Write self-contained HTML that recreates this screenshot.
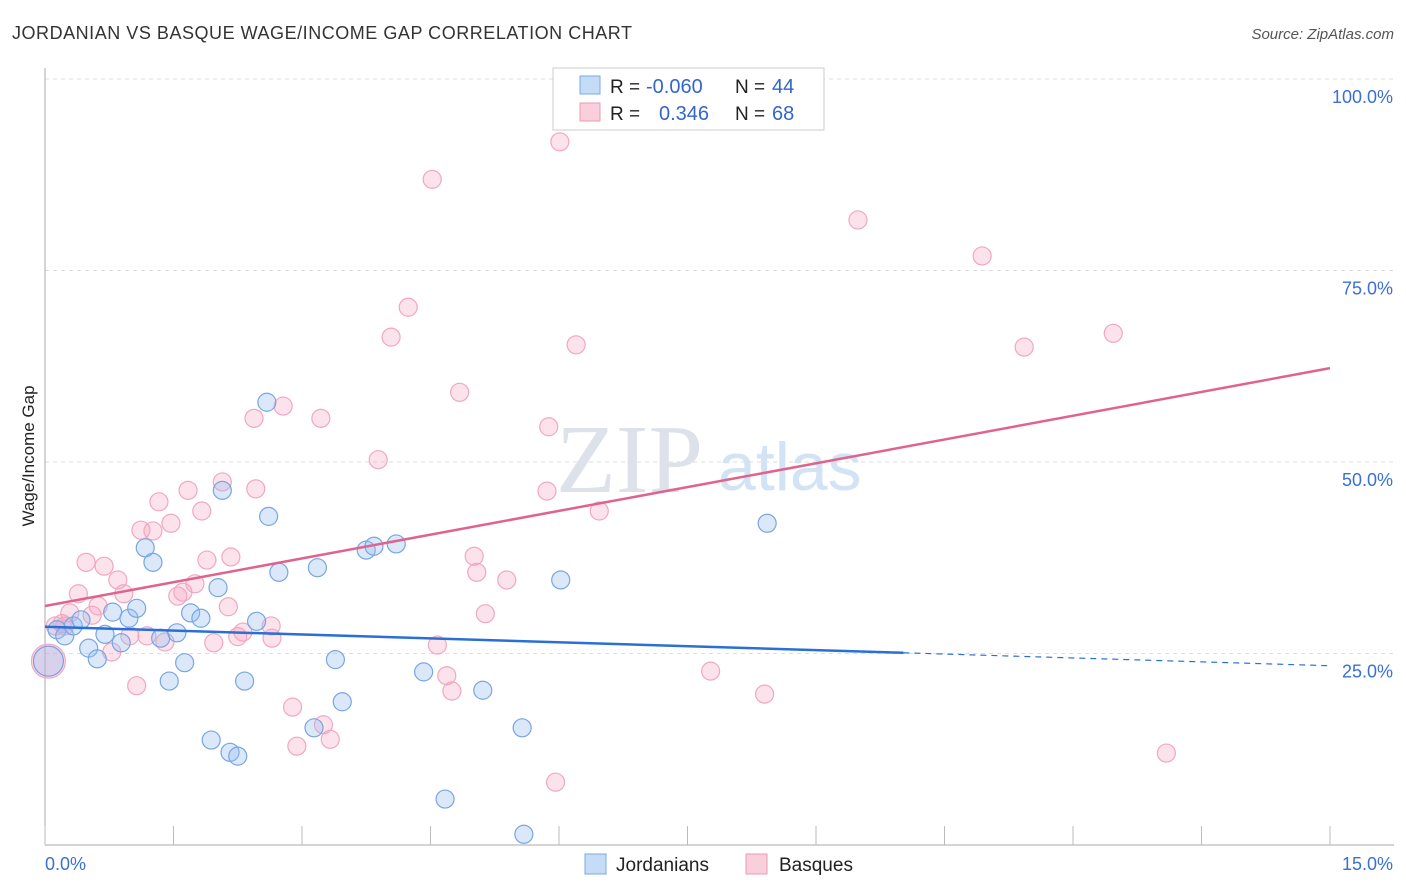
<!DOCTYPE html>
<html><head><meta charset="utf-8"><style>
body{margin:0;background:#fff;font-family:"Liberation Sans",sans-serif;}
svg{display:block}
</style></head><body>
<svg id="c" width="1406" height="892" xmlns="http://www.w3.org/2000/svg">
<text x="12" y="39" font-size="18" fill="#333" textLength="620" lengthAdjust="spacing">JORDANIAN VS BASQUE WAGE/INCOME GAP CORRELATION CHART</text>
<text x="1394" y="39" font-size="15" fill="#555" text-anchor="end" font-style="italic">Source: ZipAtlas.com</text>
<g id="grid"></g>
<text x="556" y="492" font-size="98" fill="#dde2ea" font-family="Liberation Serif">ZIP</text>
<text x="718" y="490" font-size="68" fill="#d3e3f6">atlas</text>
<g id="pts"></g>
<g id="lines"></g>
<text transform="translate(34,456) rotate(-90)" font-size="17" fill="#222" text-anchor="middle">Wage/Income Gap</text>
<g>
<rect x="553" y="68" width="271" height="62" fill="#fff" stroke="#ccc"/>
<rect x="580" y="76" width="20" height="18" fill="#c5dcf7" stroke="#7aa8e6"/>
<rect x="580" y="103" width="20" height="18" fill="#f9cfdc" stroke="#ee9ab5"/>
<text y="93" font-size="19" fill="#222"><tspan x="610">R =</tspan><tspan x="646" fill="#3366cc" font-size="20">-0.060</tspan><tspan x="735">N =</tspan><tspan x="772" fill="#3366cc" font-size="20">44</tspan></text>
<text y="120" font-size="19" fill="#222"><tspan x="610">R =</tspan><tspan x="659" fill="#3366cc" font-size="20">0.346</tspan><tspan x="735">N =</tspan><tspan x="772" fill="#3366cc" font-size="20">68</tspan></text>
</g>
<g>
<rect x="585" y="854" width="21" height="20" fill="#c5dcf7" stroke="#7aa8e6"/>
<text x="616" y="871" font-size="19" fill="#222">Jordanians</text>
<rect x="746" y="854" width="21" height="20" fill="#f9cfdc" stroke="#ee9ab5"/>
<text x="779" y="871" font-size="19" fill="#222">Basques</text>
</g>
</svg>
<script>
const xTicks=[0,1.5,3,4.5,6,7.5,9,10.5,12,13.5,15];
const yTicks=[25,50,75,100];
const yTickLabels=["25.0%","50.0%","75.0%","100.0%"];
const xLabels=["0.0%","15.0%"];
const blueX=[0.14,0.23,0.33,0.42,0.51,0.61,0.70,0.79,0.89,0.98,1.07,1.17,1.26,1.35,1.45,1.54,1.63,1.70,1.82,1.94,2.02,2.07,2.16,2.25,2.33,2.47,2.59,2.61,2.73,3.18,3.14,3.39,3.47,3.75,3.84,4.10,4.42,4.67,5.11,5.57,5.59,6.02,8.43];
const blueY=[28.1,27.3,28.6,29.4,25.7,24.3,27.5,30.4,26.4,29.6,30.9,38.8,36.9,27.0,21.4,27.7,23.8,30.3,29.6,13.7,33.6,46.3,12.1,11.6,21.4,29.2,57.8,42.9,35.6,36.2,15.3,24.2,18.7,38.5,39.0,39.3,22.6,6.0,20.2,15.3,1.4,34.6,42.0];
const pinkX=[0.12,0.20,0.29,0.39,0.48,0.55,0.62,0.69,0.78,0.85,0.92,0.99,1.07,1.12,1.19,1.26,1.33,1.40,1.47,1.55,1.61,1.67,1.75,1.83,1.89,1.97,2.07,2.14,2.17,2.25,2.31,2.44,2.46,2.64,2.65,2.78,2.89,2.94,3.22,3.25,3.33,3.89,4.04,4.24,4.52,4.58,4.69,4.75,4.84,5.01,5.04,5.14,5.39,5.88,5.86,5.96,6.01,6.20,6.47,7.77,8.40,9.49,10.94,11.43,12.47,13.09,0.23];
const pinkY=[28.6,28.9,30.3,32.8,36.9,30.0,31.2,36.4,25.2,34.6,32.8,27.3,20.8,41.1,27.3,41.0,44.8,26.5,42.0,32.5,33.0,46.3,34.1,43.6,37.2,26.4,47.4,31.1,37.6,27.2,27.8,55.7,46.5,28.6,27.0,57.3,18.0,12.9,55.7,15.7,13.8,50.3,66.3,70.2,86.9,26.1,22.1,20.1,59.1,37.7,35.6,30.2,34.6,54.6,46.2,8.2,91.8,65.3,43.6,22.7,19.7,81.6,76.9,65.0,66.8,12.0,28.6];
const bigPoint=[0.04,24.0];
const blueTrend=[28.5,-0.34]; // intercept, slope
const blueSolidEnd=10.02;
const pinkTrend=[31.2,2.07];
const X=v=>45+v/15*1285, Y=v=>845-v/100*766;
const NS="http://www.w3.org/2000/svg";
function mk(p,t,a){const e=document.createElementNS(NS,t);for(const k in a)e.setAttribute(k,a[k]);p.appendChild(e);return e;}
const grid=document.getElementById('grid'),pts=document.getElementById('pts'),lines=document.getElementById('lines');
yTicks.forEach((t,i)=>{
 const l=mk(grid,'line',{x1:45,x2:1394,y1:Y(t),y2:Y(t),stroke:'#ddd','stroke-dasharray':'4,4'});
 
 
 const tx=mk(grid,'text',{x:1393,y:Y(t)+24,'font-size':18,fill:'#3b6fd4','text-anchor':'end'});
 tx.textContent=yTickLabels[i];
 
 
});
mk(grid,'line',{x1:45,x2:1394,y1:845,y2:845,stroke:'#aaa'});
mk(grid,'line',{x1:45,x2:45,y1:68,y2:845,stroke:'#aaa'});
xTicks.forEach(t=>{
 const l=mk(grid,'line',{x1:X(t),x2:X(t),y1:826,y2:845,stroke:'#bbb'});
 
 
});
const xl0=mk(grid,'text',{x:45,y:870,'font-size':18,fill:'#3b6fd4'});xl0.textContent=xLabels[0];


const xl1=mk(grid,'text',{x:1393,y:870,'font-size':18,fill:'#3b6fd4','text-anchor':'end'});xl1.textContent=xLabels[1];


function dot(x,y,r,f,s,name){const c=mk(pts,'circle',{cx:X(x),cy:Y(y),r:r,fill:f,stroke:s,'stroke-width':1.2});
 
 }
pinkX.forEach((x,i)=>dot(x,pinkY[i],9,'rgba(245,160,190,0.3)','#f0a8c0','basque-point'));
blueX.forEach((x,i)=>dot(x,blueY[i],9,'rgba(150,190,240,0.35)','#78a6e2','jordanian-point'));
dot(bigPoint[0],bigPoint[1],17,'rgba(245,170,200,0.35)','#f0a8c0','large-point-basque');
dot(bigPoint[0],bigPoint[1],15,'rgba(150,180,235,0.35)','#7aa0de','large-point-jordanian');
const bl=mk(lines,'line',{x1:X(0),y1:Y(blueTrend[0]),x2:X(blueSolidEnd),y2:Y(blueTrend[0]+blueTrend[1]*blueSolidEnd),stroke:'#2a6fd6','stroke-width':2.5});


const bd=mk(lines,'line',{x1:X(blueSolidEnd),y1:Y(blueTrend[0]+blueTrend[1]*blueSolidEnd),x2:X(15),y2:Y(blueTrend[0]+blueTrend[1]*15),stroke:'#2a6fd6','stroke-width':1.2,'stroke-dasharray':'6,5'});


const pl=mk(lines,'line',{x1:X(0),y1:Y(pinkTrend[0]),x2:X(15),y2:Y(pinkTrend[0]+pinkTrend[1]*15),stroke:'#e0638d','stroke-width':2.5});


</script>
</body></html>
